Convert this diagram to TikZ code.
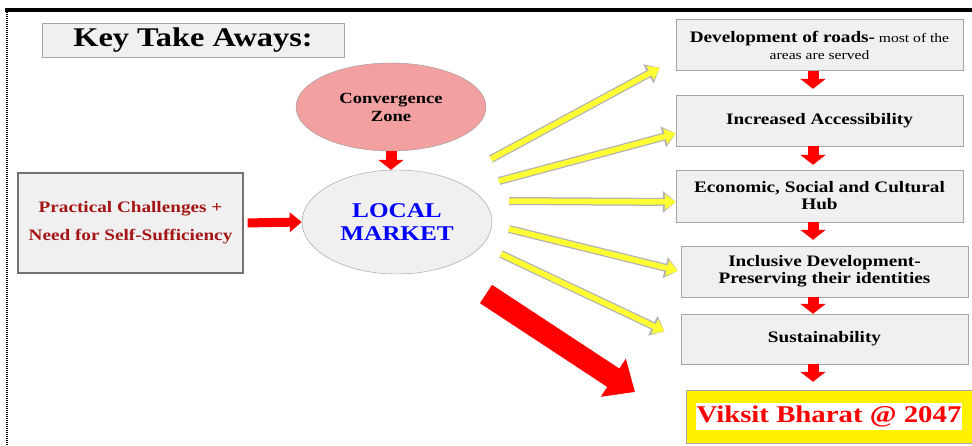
\documentclass[tikz,border=0pt]{standalone}
\usepackage{fontspec}
\setmainfont[FakeStretch=1.2]{Liberation Serif}
\usetikzlibrary{shapes.geometric,arrows.meta}
\definecolor{pinkz}{RGB}{242,160,160}
\definecolor{redz}{RGB}{255,0,0}
\definecolor{yelz}{RGB}{255,255,51}
\definecolor{darkredz}{RGB}{165,20,20}
\definecolor{bluez}{RGB}{0,0,255}
\begin{document}
\begin{tikzpicture}[x=1pt,y=-1pt,
  box/.style={draw=gray!70,fill=gray!12,minimum width=287pt,minimum height=51pt,align=center,
    font=\fontsize{16}{17}\selectfont\bfseries},
  redarr/.style={draw=redz,line width=11pt,-{Triangle[length=10pt,width=25pt]}},
  yarr/.style={draw=yelz,line width=5.5pt,-{Triangle[length=11pt,width=15pt]},
    preaction={draw=gray!60,line width=8pt,-{Triangle[length=13pt,width=21pt]}}}]
\useasboundingbox (0,0) rectangle (972,445);
% frame
\draw[line width=3.5pt] (5,10) -- (972,10);
\draw[line width=2pt,dash pattern=on 1pt off 1pt] (7,10) -- (7,445);
% title
\node[draw=gray!70,fill=gray!12,minimum width=302pt,minimum height=34pt,
  font=\fontsize{27}{29}\selectfont\bfseries] (title) at (193,40) {Key Take Aways:};
% left side
\node[ellipse,draw=gray!80,fill=pinkz,minimum width=190pt,minimum height=88pt,align=center,
  font=\fontsize{15.5}{18}\selectfont\bfseries] (conv) at (391,107) {Convergence\\Zone};
\node[ellipse,draw=gray!80,fill=gray!12,minimum width=190pt,minimum height=104pt,align=center,
  text=bluez,font=\fontsize{21}{23}\selectfont\bfseries] (lm) at (397,222) {LOCAL\\MARKET};
\node[draw=gray!90!black,line width=1.3pt,fill=gray!12,minimum width=225pt,minimum height=100pt,
  align=center,text=darkredz,font=\fontsize{16}{28}\selectfont\bfseries] (pc) at (130.5,223)
  {Practical Challenges +\\Need for Self-Sufficiency};
% right column
\node[box] (r1) at (819.5,45) {Development of roads-{\fontsize{13}{15}\selectfont\mdseries\ most of the}\\
  {\fontsize{13}{15}\selectfont\mdseries areas are served}};
\node[box] (r2) at (819.5,120.5) {Increased Accessibility};
\node[box,minimum height=52pt] (r3) at (819.5,196) {Economic, Social and Cultural\\Hub};
\node[box] (r4) at (824.5,271.5) {Inclusive Development-\\Preserving their identities};
\node[box,minimum height=50pt] (r5) at (824.5,339) {Sustainability};
\node[draw=gray!70,fill=yellow,minimum width=286pt,minimum height=53pt] (vb) at (829,416.5) {};
\node[fill=white,inner sep=1pt,minimum width=264pt,minimum height=27pt,text=redz,
  font=\fontsize{24}{26}\selectfont\bfseries] (vbt) at (vb.center) {Viksit Bharat @ 2047};
% red arrows
\coordinate (ax) at (813,0);
\draw[redarr] (conv.south) -- (conv.south |- lm.north);
\draw[redz,line width=9pt,-{Triangle[length=12pt,width=19pt]},shorten <=4pt] (pc.east) -- (lm.west);
\foreach \a/\b/\s in {r1/r2/6,r2/r3/5,r3/r4/6,r4/r5/0,r5/vb/8}
  \draw[redarr,shorten >=\s pt] (\a.south -| ax) -- (\b.north -| ax);
\coordinate (bs) at (486,294);
\coordinate (bt) at (635,392);
\draw[redz,line width=22pt,-{Triangle[length=26pt,width=44pt]}] (bs) -- (bt);
% yellow arrows
\coordinate (y1) at (491,159);
\coordinate (y2) at (499,181);
\coordinate (y3) at (509,201);
\coordinate (y4) at (509,229);
\coordinate (y5) at (501,254);
\draw[yarr] (y1) -- ([xshift=-16pt,yshift=3pt]r1.south west);
\draw[yarr] (y2) -- ([yshift=-13pt]r2.west);
\draw[yarr] (y3) -- ([yshift=-6pt]r3.west);
\draw[yarr,shorten >=3pt] (y4) -- (r4.west);
\draw[yarr,shorten >=18pt] (y5) -- (r5.west);
\end{tikzpicture}
\end{document}
